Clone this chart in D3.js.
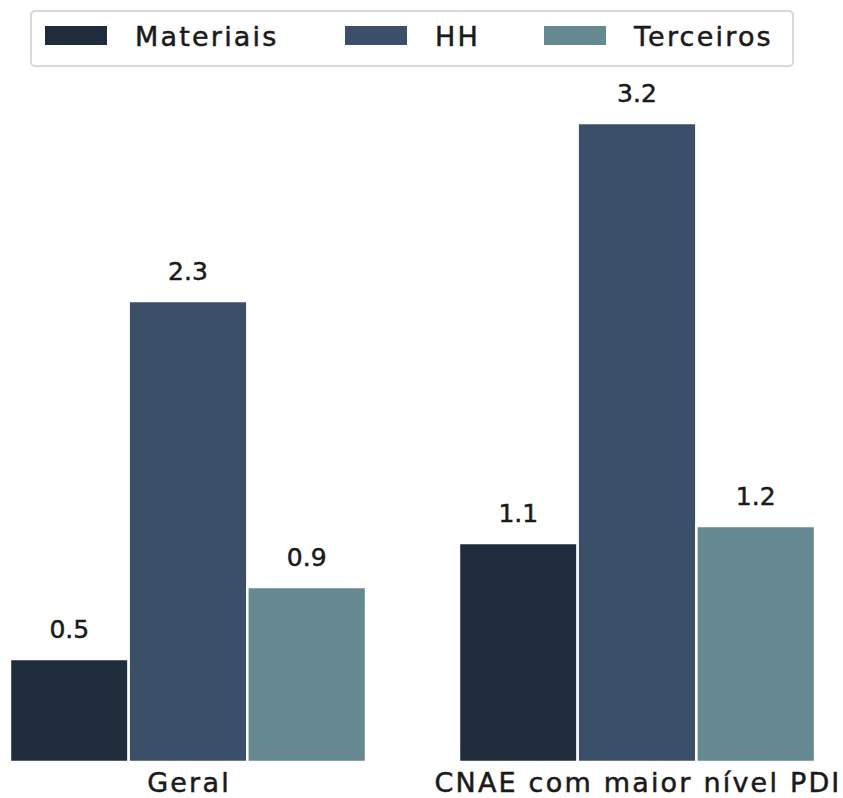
<!DOCTYPE html>
<html>
<head>
<meta charset="utf-8">
<script src="https://cdn.jsdelivr.net/npm/d3@7"></script>
<style>
  html, body { margin: 0; padding: 0; background: #fff; }
  svg { display: block; }
  text { font-family: "DejaVu Sans", sans-serif; fill: #1a1a1a; stroke: #1a1a1a; stroke-width: 0.5px; }
</style>
</head>
<body>
<svg id="chart" width="843" height="798"></svg>
<script>
const categories = ["Geral", "CNAE com maior nível PDI"];
const seriesNames = ["Materiais", "HH", "Terceiros"];
const materiais = [0.515, 1.095];
const hh = [2.305, 3.195];
const terceiros = [0.875, 1.18];
const seriesColors = ["#1f2c3b", "#3b5068", "#668890"];

const seriesValues = [materiais, hh, terceiros];
const svg = d3.select("#chart");

const baseline = 762;
const y = d3.scaleLinear().domain([0, 1]).range([baseline, baseline - 200]);

const x0 = d3.scaleBand().domain(categories)
  .range([-36.5, 861.5]).paddingInner(0.207).paddingOuter(0.1035);
const x1 = d3.scaleBand().domain(seriesNames).range([0, x0.bandwidth()]).padding(0);

const fmt = d3.format(".1f");

const data = [];
categories.forEach((c, ci) => {
  seriesNames.forEach((s, si) => {
    data.push({ cat: c, series: s, value: seriesValues[si][ci], color: seriesColors[si] });
  });
});

const g = svg.append("g");
g.selectAll("rect.bar").data(data).enter().append("rect")
  .attr("class", "bar")
  .attr("x", d => x0(d.cat) + x1(d.series))
  .attr("width", x1.bandwidth())
  .attr("y", d => y(d.value))
  .attr("height", d => y(0) - y(d.value))
  .attr("fill", d => d.color)
  .attr("stroke", "#ffffff")
  .attr("stroke-width", 2.5);

g.selectAll("text.val").data(data).enter().append("text")
  .attr("class", "val")
  .attr("x", d => x0(d.cat) + x1(d.series) + x1.bandwidth() / 2)
  .attr("y", d => y(d.value) - 21)
  .attr("text-anchor", "middle")
  .style("font-size", "25px")
  .text(d => fmt(d.value));

// x axis labels
const xAxis = d3.axisBottom(x0).tickSize(0).tickPadding(0);
const ax = svg.append("g").attr("transform", `translate(0,${baseline})`).call(xAxis);
ax.select(".domain").remove();
ax.selectAll("text")
  .attr("y", 30)
  .attr("dy", 0)
  .attr("dx", 1)
  .style("font-size", "27px")
  .style("letter-spacing", "2.2px")
  .style("font-family", "'DejaVu Sans', sans-serif")
  .attr("fill", "#1a1a1a");

// legend
const leg = svg.append("g");
leg.append("rect")
  .attr("x", 31).attr("y", 11).attr("width", 762).attr("height", 55)
  .attr("rx", 4).attr("ry", 4)
  .attr("fill", "#fff").attr("stroke", "#d9d9d9").attr("stroke-width", 2);
const legX = [45, 345, 544];
seriesNames.forEach((s, i) => {
  leg.append("rect")
    .attr("x", legX[i]).attr("y", 26).attr("width", 62).attr("height", 19)
    .attr("fill", seriesColors[i]);
  leg.append("text")
    .attr("x", legX[i] + 90).attr("y", 46)
    .style("font-size", "27px")
    .style("letter-spacing", "2.2px")
    .text(s);
});
</script>
</body>
</html>
